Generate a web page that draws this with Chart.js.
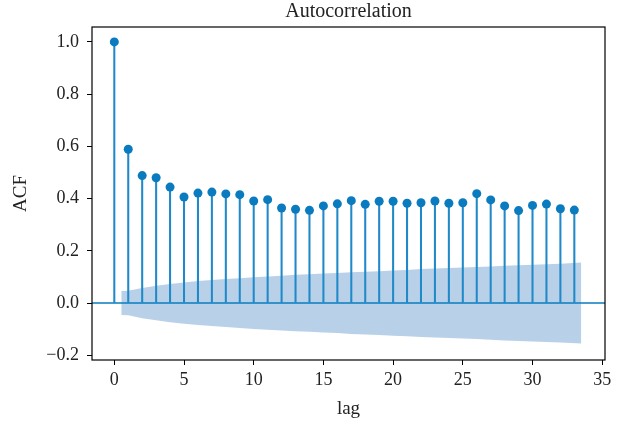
<!DOCTYPE html>
<html>
<head>
<meta charset="utf-8">
<script src="https://cdn.jsdelivr.net/npm/chart.js@4"></script>
<style>
  body { margin: 0; background: #fff; }
  #acfChart { display: block; }
</style>
</head>
<body>
<canvas id="acfChart" width="625" height="428"></canvas>
<script>
// acf values, one per lag
const lags = [0, 1, 2, 3, 4, 5, 6, 7, 8, 9, 10, 11, 12, 13, 14, 15, 16,
  17, 18, 19, 20, 21, 22, 23, 24, 25, 26, 27, 28, 29, 30, 31, 32, 33];
const acfValues = [1.0, 0.589, 0.488, 0.480, 0.444, 0.406, 0.421, 0.425, 0.418, 0.415,
  0.391, 0.396, 0.364, 0.359, 0.355, 0.372, 0.380, 0.392, 0.378, 0.390,
  0.390, 0.382, 0.384, 0.391, 0.382, 0.384, 0.419, 0.395, 0.372, 0.354,
  0.374, 0.379, 0.361, 0.356];

// confidence band (half width around zero)
const bandLags = [0.5, 1, 2, 3, 4, 5, 6, 7, 8, 9, 10, 11, 12, 13, 14, 15, 16,
  17, 18, 19, 20, 21, 22, 23, 24, 25, 26, 27, 28, 29, 30, 31, 32, 33.5];
const bandHalf = [0.046, 0.047, 0.058, 0.066, 0.073, 0.079, 0.084, 0.088, 0.092, 0.095,
  0.099, 0.102, 0.105, 0.108, 0.110, 0.113, 0.115, 0.118, 0.120, 0.122,
  0.125, 0.127, 0.130, 0.132, 0.134, 0.136, 0.138, 0.140, 0.143, 0.145,
  0.147, 0.149, 0.151, 0.155];

const xTicks = [0, 5, 10, 15, 20, 25, 30, 35];
const yTicks = [-0.2, 0, 0.2, 0.4, 0.6, 0.8, 1.0];

const blue = '#0a7bbf';
const serif = '"Liberation Serif", "DejaVu Serif", serif';

const acfPoints = lags.map((l, i) => ({ x: l, y: acfValues[i] }));

// frame around the plot + title centred over the plot area (like matplotlib)
const boxPlugin = {
  id: 'box',
  afterDraw(chart) {
    const { ctx, chartArea: a } = chart;
    ctx.save();
    ctx.strokeStyle = '#000';
    ctx.lineWidth = 1.2;
    ctx.strokeRect(a.left, a.top, a.right - a.left, a.bottom - a.top);
    ctx.fillStyle = '#222';
    ctx.font = '20px ' + serif;
    ctx.textAlign = 'center';
    ctx.textBaseline = 'middle';
    ctx.fillText('Autocorrelation', (a.left + a.right) / 2, 12);
    ctx.restore();
  }
};

const ctx = document.getElementById('acfChart').getContext('2d');
const acfChart = new Chart(ctx, {
  type: 'line',
  data: {
    datasets: [
      {
        label: 'upper',
        data: bandLags.map((l, i) => ({ x: l, y: bandHalf[i] })),
        borderWidth: 0,
        pointRadius: 0,
        backgroundColor: '#b9d1e8',
        fill: '+1',
        order: 4
      },
      {
        label: 'lower',
        data: bandLags.map((l, i) => ({ x: l, y: -bandHalf[i] })),
        borderWidth: 0,
        pointRadius: 0,
        fill: false,
        order: 5
      },
      {
        label: 'zero',
        data: [{ x: -1.6, y: 0 }, { x: 35.2, y: 0 }],
        borderColor: blue,
        borderWidth: 1.5,
        pointRadius: 0,
        fill: false,
        order: 2
      },
      {
        type: 'bar',
        label: 'stems',
        data: acfPoints,
        backgroundColor: '#2089c9',
        barThickness: 1.4,
        order: 1
      },
      {
        label: 'acf',
        data: acfPoints,
        showLine: false,
        pointRadius: 4.5,
        pointBackgroundColor: blue,
        pointBorderWidth: 0,
        order: 0
      }
    ]
  },
  options: {
    responsive: false,
    animation: false,
    layout: { padding: { left: 0, right: 20, top: 27, bottom: 0 } },
    scales: {
      x: {
        type: 'linear',
        min: -1.6,
        max: 35.2,
        offset: false,
        afterFit: (s) => { s.height = 68; },
        afterBuildTicks: (s) => { s.ticks = xTicks.map(v => ({ value: v })); },
        border: { display: false },
        grid: { offset: false, drawOnChartArea: false, drawTicks: true, tickLength: 5, color: '#000' },
        ticks: { color: '#222', font: { family: serif, size: 18 }, padding: 4, maxRotation: 0 },
        title: { display: true, text: 'lag', color: '#222', font: { family: serif, size: 19 }, padding: { top: 2, bottom: 8 } }
      },
      y: {
        min: -0.218,
        max: 1.057,
        afterFit: (s) => { s.width = 92; },
        afterBuildTicks: (s) => { s.ticks = yTicks.map(v => ({ value: v })); },
        border: { display: false },
        grid: { drawOnChartArea: false, drawTicks: true, tickLength: 5, color: '#000' },
        ticks: {
          color: '#222',
          font: { family: serif, size: 18 },
          padding: 8,
          callback: (v) => (v < -1e-9 ? '\u2212' + Math.abs(v).toFixed(1) : Math.abs(v).toFixed(1))
        },
        title: { display: true, text: 'ACF', color: '#222', font: { family: serif, size: 19 }, padding: { top: 10, bottom: 4 } }
      }
    },
    plugins: {
      legend: { display: false },
      tooltip: { enabled: false },
      title: { display: false }
    }
  },
  plugins: [boxPlugin]
});
</script>
</body>
</html>
